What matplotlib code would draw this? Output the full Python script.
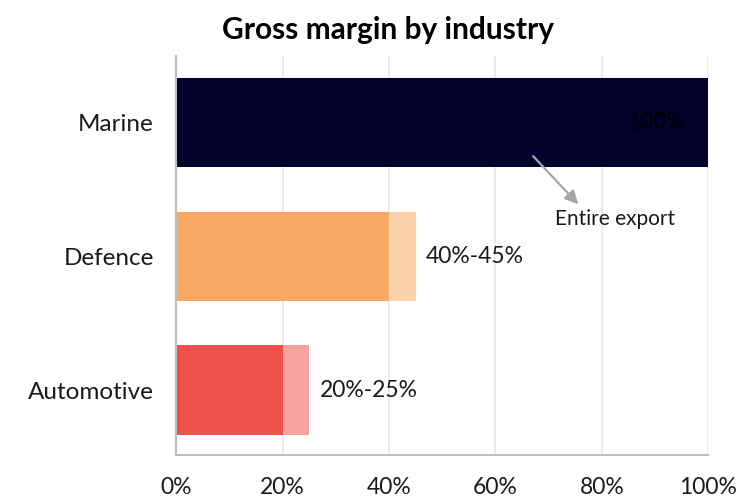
import matplotlib.pyplot as plt
from matplotlib.ticker import PercentFormatter

plt.rcParams['font.family'] = ['Lato', 'DejaVu Sans']

# Gross margin ranges by industry (percent)
industries = ["Automotive", "Defence", "Marine"]
margin_low = [20, 40, 100]
margin_high = [25, 45, 100]
value_labels = ["20%-25%", "40%-45%", "100%"]
base_colors = ["#F0514A", "#F8A966", "#03002E"]
range_colors = ["#F5A3A0", "#FCD2AE", "#03002E"]

fig = plt.figure(figsize=(7.4, 4.98), dpi=100)
ax = fig.add_axes([0.238, 0.086, 0.719, 0.802])

pos = list(range(len(industries)))
extra = [h - l for l, h in zip(margin_low, margin_high)]
ax.barh(pos, margin_low, height=0.67, color=base_colors, zorder=2)
ax.barh(pos, extra, left=margin_low, height=0.67, color=range_colors, zorder=2)

# range labels beside the bars, the full-export one inside its bar
for i, (hi, lab) in enumerate(zip(margin_high, value_labels)):
    if hi >= 100:
        ax.text(hi - 4.3, i, lab, ha="right", va="center", fontsize=16.5, color="#000000")
    else:
        ax.text(hi + 2, i, lab, ha="left", va="center", fontsize=16.5, color="#1a1a1a")

ax.annotate("", xy=(75.6, 1.39), xytext=(67.1, 1.75),
            arrowprops=dict(arrowstyle="-|>", color="#A6A6A6", lw=1.6,
                            mutation_scale=20, shrinkA=0, shrinkB=0))
ax.text(71.2, 1.28, "Entire export", ha="left", va="center",
        fontsize=15, color="#1a1a1a")

ax.set_xlim(0, 100)
ax.set_ylim(-0.485, 2.5)
ax.set_xticks([0, 20, 40, 60, 80, 100])
ax.xaxis.set_major_formatter(PercentFormatter(decimals=0))
ax.set_yticks(pos)
ax.set_yticklabels(industries)
ax.tick_params(axis="both", length=0, labelsize=16.5, colors="#1a1a1a")
ax.tick_params(axis="y", labelsize=17.5)
ax.tick_params(axis="x", pad=16)
ax.tick_params(axis="y", pad=16)
ax.grid(axis="x", color="#E8E8E8", lw=1.2, zorder=0)
for side in ["top", "right"]:
    ax.spines[side].set_visible(False)
for side in ["left", "bottom"]:
    ax.spines[side].set_color("#BFBFBF")
    ax.spines[side].set_linewidth(1.5)

fig.suptitle("Gross margin by industry", x=0.524, y=0.968,
             fontsize=21.5, fontweight="bold", color="#000000")

fig.savefig("out.png", dpi=100)
